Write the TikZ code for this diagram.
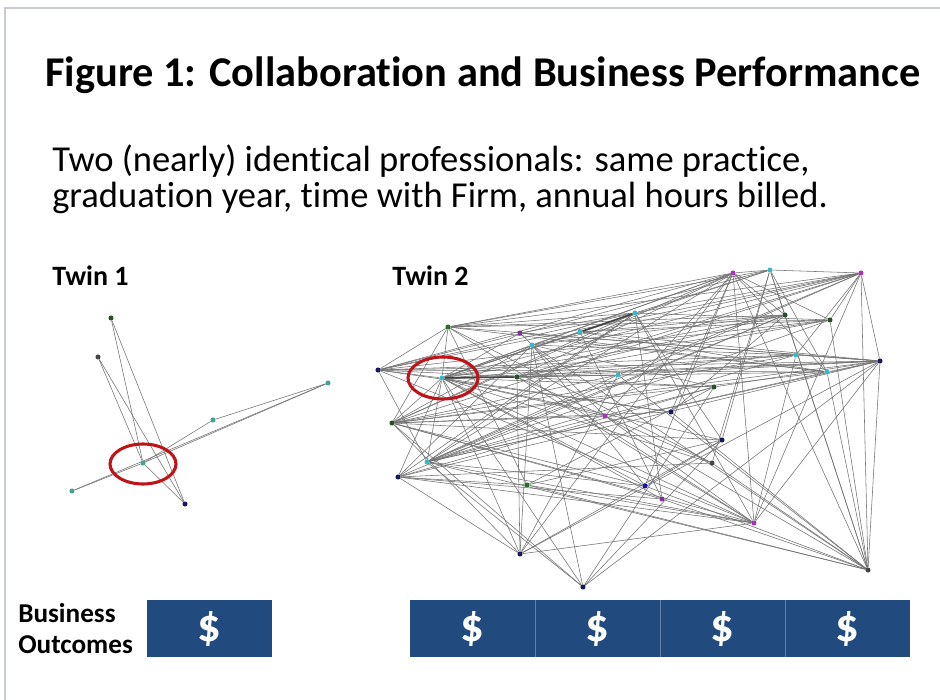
\documentclass[tikz,border=0pt]{standalone}
\usepackage{fontspec}
\setmainfont{Carlito}[Ligatures=NoCommon]
\pgfdeclarelayer{bottom}
\pgfdeclarelayer{links}
\pgfsetlayers{bottom,links,main}
\definecolor{cyanN}{RGB}{60,185,195}
\definecolor{tealN}{RGB}{70,160,150}
\definecolor{magN}{RGB}{170,50,190}
\definecolor{navyN}{RGB}{25,25,95}
\definecolor{dgreenN}{RGB}{40,80,40}
\definecolor{greenN}{RGB}{40,110,40}
\definecolor{blueN}{RGB}{20,20,170}
\definecolor{purpN}{RGB}{130,50,150}
\definecolor{grayN}{RGB}{70,70,70}
\definecolor{barblue}{RGB}{33,74,126}
\definecolor{ringred}{RGB}{190,20,25}
\definecolor{framegray}{RGB}{200,204,214}
\tikzset{
  dot/.style={circle, inner sep=0pt, minimum size=3.8pt, fill=#1},
  edge/.style={draw=black!55, line width=0.42pt},
  heavy/.style={draw=black!75, line width=1.1pt},
  ring/.style={draw=ringred, line width=2.3pt},
  outcome/.style={fill=barblue, draw=none},
  dollar/.style={text=white, font=\fontsize{35}{35}\selectfont\bfseries},
  lbl/.style={font=\fontsize{21}{22}\selectfont\bfseries, anchor=base west, inner sep=0pt}
}
\begin{document}
\begin{tikzpicture}[x=0.75pt, y=-0.75pt]
\useasboundingbox (0,0) rectangle (940,700);
\begin{pgfonlayer}{bottom}
\fill[white] (0,0) rectangle (940,700);
\end{pgfonlayer}
% frame
\draw[framegray, line width=1.2pt] (5,700) -- (5,8) -- (940,8);

% headings
\node[anchor=base west, inner sep=0pt, font=\fontsize{31.8}{34}\selectfont\bfseries] (title) at (45,86) {Figure 1: Collaboration and Business Performance};
\node[anchor=base west, inner sep=0pt, font=\fontsize{27.4}{30}\selectfont] (sub1) at (52,171) {Two (nearly) identical professionals: same practice,};
\node[anchor=base west, inner sep=0pt, font=\fontsize{27.4}{30}\selectfont] (sub2) at (52,207) {graduation year, time with Firm, annual hours billed.};
\node[lbl] (tw1) at (52,285) {Twin 1};
\node[lbl] (tw2) at (392,285) {Twin 2};

% ---- Twin 1 network ----
\node[dot=dgreenN] (a1) at (111,318) {};
\node[dot=grayN]   (a2) at (98,357) {};
\node[dot=tealN]   (a3) at (328,383) {};
\node[dot=tealN]   (a4) at (213,420) {};
\node[dot=tealN]   (a5) at (143,463) {};
\node[dot=tealN]   (a6) at (72,491) {};
\node[dot=navyN]   (a7) at (185,504) {};
\begin{pgfonlayer}{links}
\foreach \p/\q in {a1/a5, a1/a7, a2/a5, a2/a7, a3/a5, a3/a6, a4/a3, a4/a5, a5/a7, a6/a5}
  \draw[edge] (\p) -- (\q);
\end{pgfonlayer}
\draw[ring] (143,464) ellipse (33 and 20);

% ---- Twin 2 network ----
\node[dot=greenN]  (t1)  at (448,327) {};
\node[dot=purpN]   (t2)  at (520,333) {};
\node[dot=cyanN]   (t3)  at (532,345) {};
\node[dot=cyanN]   (t4)  at (580,332) {};
\node[dot=cyanN]   (t5)  at (635,313) {};
\node[dot=magN]    (t6)  at (733,273) {};
\node[dot=cyanN]   (t7)  at (770,270) {};
\node[dot=magN]    (t8)  at (861,273) {};
\node[dot=dgreenN] (t9)  at (785,315) {};
\node[dot=dgreenN] (t10) at (830,320) {};
\node[dot=cyanN]   (t11) at (796,355) {};
\node[dot=navyN]   (t12) at (880,361) {};
\node[dot=cyanN]   (t13) at (827,372) {};
\node[dot=navyN]   (t14) at (378,370) {};
\node[dot=cyanN]   (ego) at (442,378) {};
\node[dot=dgreenN] (t15) at (517,377) {};
\node[dot=cyanN]   (t16) at (618,375) {};
\node[dot=dgreenN] (t17) at (714,387) {};
\node[dot=magN]    (t18) at (605,416) {};
\node[dot=navyN]   (t19) at (671,412) {};
\node[dot=dgreenN] (t20) at (392,423) {};
\node[dot=cyanN]   (t21) at (427,462) {};
\node[dot=navyN]   (t22) at (398,477) {};
\node[dot=greenN]  (t23) at (527,485) {};
\node[dot=navyN]   (t24) at (520,554) {};
\node[dot=navyN]   (t25) at (583,587) {};
\node[dot=navyN]   (t26) at (722,440) {};
\node[dot=grayN]   (t27) at (712,463) {};
\node[dot=blueN]   (t28) at (645,486) {};
\node[dot=purpN]   (t29) at (662,499) {};
\node[dot=magN]    (t30) at (754,523) {};
\node[dot=grayN]   (t31) at (868,570) {};
\begin{pgfonlayer}{links}
\foreach \p/\q in {
  ego/t1, ego/t2, ego/t3, ego/t4, ego/t5, ego/t6, ego/t7, ego/t8, ego/t9, ego/t10,
  ego/t11, ego/t12, ego/t13, ego/t14, ego/t16, ego/t17, ego/t18, ego/t19,
  ego/t20, ego/t21, ego/t22, ego/t24, ego/t25, ego/t26, ego/t27, ego/t28, ego/t29, ego/t30,
  t6/t1, t6/t3, t6/t14, t6/t15, t6/t20, t6/t21, t6/t30, t6/t31, t6/t28, t6/t7,
  t6/t9, t6/t13, t6/t24, t6/t19, t6/t10, t6/t18,
  t8/t7, t8/t1, t8/t3, t8/t14, t8/t15, t8/t12, t8/t31, t8/t30, t8/t10, t8/t11,
  t8/t16, t8/t20, t8/t21, t8/t2,
  t12/t14, t12/t15, t12/t16, t12/t11, t12/t13, t12/t31, t12/t30, t12/t4,
  t12/t21, t12/t17, t12/t24, t12/t25, t12/t2, t12/t1, t12/t20, t12/t22,
  t31/t10, t31/t7, t31/t9, t31/t28, t31/t29, t31/t18, t31/t16, t31/t19,
  t31/t3, t31/t21, t31/t23, t31/t27, t31/t13,
  t30/t14, t30/t20, t30/t21, t30/t22, t30/t15, t30/t18, t30/t5, t30/t1,
  t30/t23, t30/t24, t30/t11,
  t14/t1, t14/t5, t14/t7, t14/t11, t14/t15, t14/t21, t14/t13, t14/t19, t14/t10,
  t1/t7, t1/t5, t1/t9, t1/t10, t1/t20, t1/t23, t1/t27, t1/t13,
  t20/t3, t20/t5, t20/t16, t20/t19, t20/t26, t20/t24, t20/t18, t20/t28, t20/t29, t20/t25,
  t20/t11, t20/t13,
  t21/t5, t21/t9, t21/t16, t21/t17, t21/t25, t21/t28, t21/t10, t21/t13, t21/t11,
  t22/t3, t22/t24, t22/t29, t22/t23, t22/t27, t22/t5, t22/t9, t22/t17,
  t24/t3, t24/t16, t24/t26, t24/t15,
  t25/t26, t25/t3, t25/t17,
  t23/t26, t23/t17,
  t5/t7, t5/t10, t5/t26, t5/t29,
  t7/t9, t7/t27, t7/t13, t7/t26,
  t9/t3, t9/t15, t9/t4, t9/t19,
  t10/t15, t10/t4,
  t11/t3, t11/t15, t13/t4, t13/t2,
  t15/t16, t15/t17, t17/t3, t18/t2,
  t26/t28, t27/t15, t28/t3, t29/t4}
  \draw[edge] (\p) -- (\q);
% strongest ties
\foreach \p/\q in {ego/t15, t4/t5}
  \draw[heavy] (\p) -- (\q);
\end{pgfonlayer}
\draw[ring] (443,378) ellipse (35 and 21);

% ---- business outcomes ----
\node[lbl, font=\fontsize{20.4}{22}\selectfont\bfseries] (bo1) at (18,622) {Business};
\node[lbl, font=\fontsize{20.4}{22}\selectfont\bfseries] (bo2) at (18,653) {Outcomes};

\fill[outcome] (147,600) rectangle (272,657);
\node[dollar] (d0) at (209.5,629) {\$};

\fill[outcome] (410,600) rectangle (910,657);
\foreach \xa/\nm in {410/d1, 535/d2, 660/d3, 785/d4}
  \node[dollar] (\nm) at (\xa+62.5,629) {\$};
\foreach \xd in {535, 660, 785}
  \draw[barblue!70!white, line width=0.5pt] (\xd,600) -- (\xd,657);
\end{tikzpicture}
\end{document}
